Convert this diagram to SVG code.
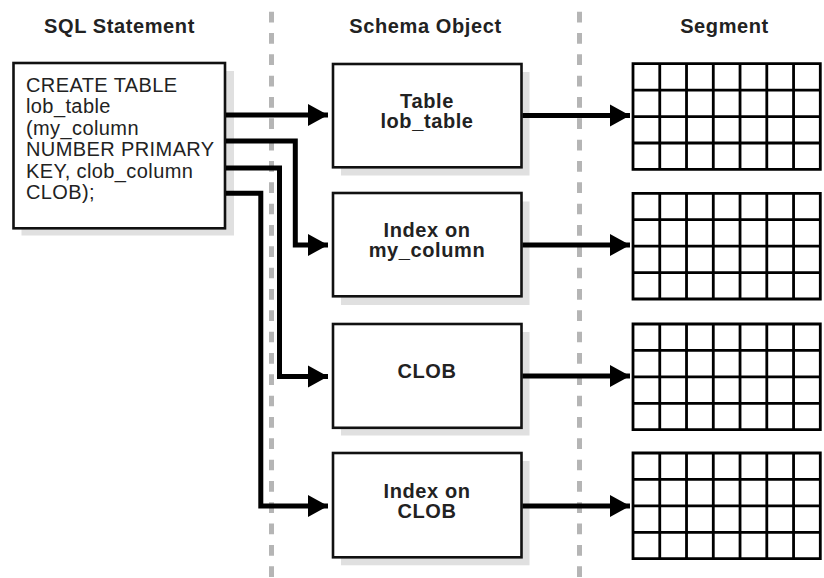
<svg xmlns="http://www.w3.org/2000/svg" width="824" height="578" viewBox="0 0 824 578">
<style>
  .hdr { font-family: "Liberation Sans", Arial, sans-serif; font-weight: bold; font-size: 20px; letter-spacing: 0.6px; fill: #222; text-anchor: middle; }
  .lbl { font-family: "Liberation Sans", Arial, sans-serif; font-weight: bold; font-size: 20px; letter-spacing: 0.6px; fill: #222; text-anchor: middle; }
  .sql { font-family: "Liberation Sans", Arial, sans-serif; font-size: 20px; letter-spacing: 0.4px; fill: #222; }
  .box { fill: #fff; stroke: #111; stroke-width: 2.6; }
  .shadow { fill: #e0e0e0; stroke: none; }
  .divider { stroke: #b5b5b5; stroke-width: 5; stroke-dasharray: 10.7 10.63; fill: none; }
  .conn { fill: none; stroke: #000; stroke-width: 5; stroke-linejoin: miter; stroke-linecap: butt; }
  .grid { fill: none; stroke: #000; stroke-width: 2.8; }
</style>
<defs>
  <marker id="arrow" markerUnits="userSpaceOnUse" markerWidth="22" markerHeight="24" refX="20" refY="11" orient="auto" viewBox="0 0 22 22">
    <path d="M0,0 L20,11 L0,22 Z" fill="#000"/>
  </marker>
  <g id="gridShape">
    <rect x="0" y="0" width="187.3" height="105.7" fill="#fff"/>
    <path class="grid" d="M0,0 H187.3 V105.7 H0 Z M26.76,0 V105.7 M53.52,0 V105.7 M80.28,0 V105.7 M107.04,0 V105.7 M133.8,0 V105.7 M160.56,0 V105.7 M0,26.4 H187.3 M0,52.85 H187.3 M0,79.3 H187.3"/>
  </g>
</defs>
<rect width="824" height="578" fill="#fff"/>

<g id="dividers">
  <line class="divider" x1="271.5" y1="11.7" x2="271.5" y2="578"/>
  <line class="divider" x1="579.5" y1="11.7" x2="579.5" y2="578"/>
</g>

<g id="headers">
  <text class="hdr" x="119.5" y="32.5">SQL Statement</text>
  <text class="hdr" x="425.5" y="32.5">Schema Object</text>
  <text class="hdr" x="724.5" y="32.5">Segment</text>
</g>

<g id="sql-statement">
  <rect class="shadow" x="21.5" y="71" width="212.5" height="164.5"/>
  <rect class="box" x="13.5" y="63" width="211.5" height="165.3"/>
  <text class="sql" x="26" y="91.7">CREATE TABLE</text>
  <text class="sql" x="26" y="113.2">lob_table</text>
  <text class="sql" x="26" y="134.6">(my_column</text>
  <text class="sql" x="26" y="156.1">NUMBER PRIMARY</text>
  <text class="sql" x="26" y="177.5">KEY, clob_column</text>
  <text class="sql" x="26" y="199">CLOB);</text>
</g>

<g id="obj-table">
  <rect class="shadow" x="341" y="72" width="188.5" height="103.5"/>
  <rect class="box" x="333" y="64" width="188.5" height="103.3"/>
  <text class="lbl" x="427" y="108.3">Table</text>
  <text class="lbl" x="427" y="128.3">lob_table</text>
</g>

<g id="obj-index-mycolumn">
  <rect class="shadow" x="341" y="201.5" width="188.5" height="103.5"/>
  <rect class="box" x="333" y="193" width="188.5" height="103.3"/>
  <text class="lbl" x="427" y="236.7">Index on</text>
  <text class="lbl" x="427" y="256.7">my_column</text>
</g>

<g id="obj-clob">
  <rect class="shadow" x="341" y="332" width="188.5" height="103.5"/>
  <rect class="box" x="333" y="324" width="188.5" height="103.8"/>
  <text class="lbl" x="427" y="378.3">CLOB</text>
</g>

<g id="obj-index-clob">
  <rect class="shadow" x="341" y="461" width="188.5" height="104.3"/>
  <rect class="box" x="333" y="453" width="188.5" height="104.3"/>
  <text class="lbl" x="427" y="498.3">Index on</text>
  <text class="lbl" x="427" y="518.3">CLOB</text>
</g>

<g id="segment-1"><use href="#gridShape" x="633" y="63.7"/></g>
<g id="segment-2"><use href="#gridShape" x="633" y="193.3"/></g>
<g id="segment-3"><use href="#gridShape" x="633" y="324"/></g>
<g id="segment-4"><use href="#gridShape" x="633" y="453"/></g>

<g id="connectors">
  <path class="conn" d="M226,115 H328" marker-end="url(#arrow)"/>
  <path class="conn" d="M226,141 H295.3 V245 H328" marker-end="url(#arrow)"/>
  <path class="conn" d="M226,168 H279.5 V376.5 H328" marker-end="url(#arrow)"/>
  <path class="conn" d="M226,193.3 H260.8 V506 H328" marker-end="url(#arrow)"/>
  <path class="conn" d="M522.5,115.5 H630" marker-end="url(#arrow)"/>
  <path class="conn" d="M522.5,245 H630" marker-end="url(#arrow)"/>
  <path class="conn" d="M522.5,376 H630" marker-end="url(#arrow)"/>
  <path class="conn" d="M522.5,506 H630" marker-end="url(#arrow)"/>
</g>
</svg>
